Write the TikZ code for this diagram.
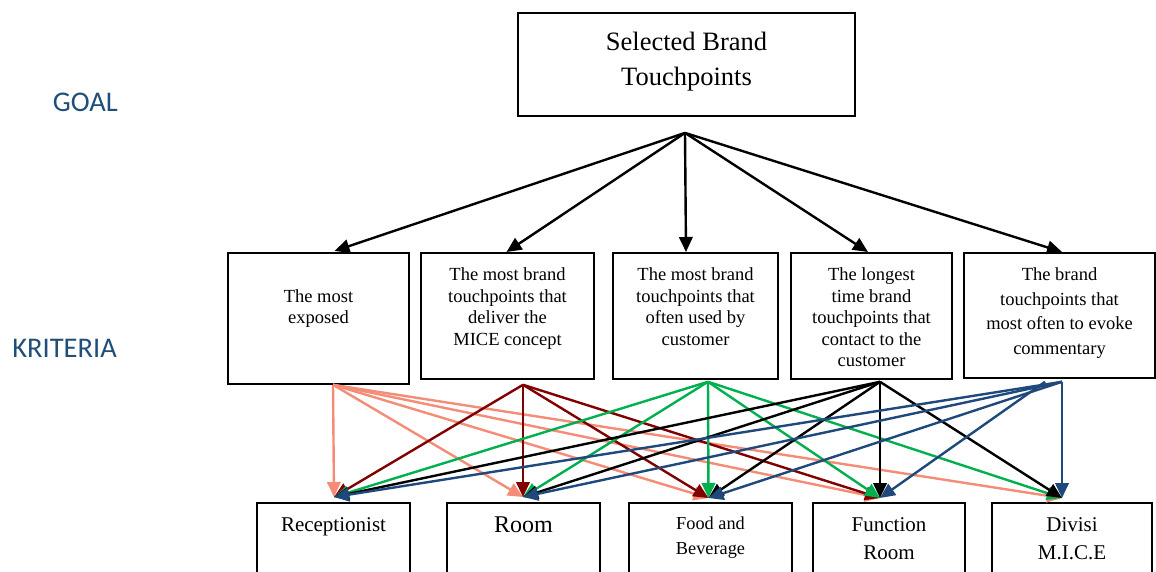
\documentclass[tikz,border=0pt]{standalone}
\usepackage{fontspec}
\setmainfont{Liberation Serif}
\newfontfamily\carl{Carlito}
\usepackage{tikz}
\usetikzlibrary{arrows.meta}
\usetikzlibrary{positioning}
\definecolor{salm}{RGB}{245,140,120}
\definecolor{dred}{RGB}{128,0,0}
\definecolor{grn}{RGB}{0,176,80}
\definecolor{dblue}{RGB}{31,73,125}
\definecolor{lblue}{RGB}{31,78,121}

\begin{document}
\begin{tikzpicture}[x=1pt, y=-1pt, goalbox/.style={draw, line width=1.8pt, minimum width=337pt,
		minimum height=103pt}, gtxt/.style={anchor=north, inner sep=0pt, align=center,
		font=\fontsize{26.5}{35}\selectfont}, kbox/.style={draw, line width=1.8pt, anchor=north,
		minimum height=126pt}, ktxt/.style={anchor=north, inner sep=0pt, align=center,
		font=\fontsize{18.5}{21.5}\selectfont}, abox/.style={draw, line width=1.8pt, anchor=north,
		minimum width=153pt, minimum height=120pt}, atxt/.style={anchor=north, inner sep=0pt,
		align=center, font=\fontsize{21}{28}\selectfont}, side/.style={anchor=base east, inner sep=0pt,
		text=lblue, font=\carl\fontsize{28.5}{30}\selectfont}, arr/.style={line width=2.4pt,
		-{Triangle[length=15pt, width=13.5pt]}}]
	\useasboundingbox (0,0) rectangle (1156,572);
	\node[side] (g1) at (118, 112) {GOAL};
	\node[side] (g2) at (117, 357) {KRITERIA};
	\node[goalbox] (0) at (686.5, 64.5) {};
	\node[gtxt, below=19.5pt of 0.north] (0t) {Selected Brand\\Touchpoints};
	\node[kbox, minimum width=181pt, minimum height=131pt] (1) at (318.5, 252) {};
	\node[kbox, minimum width=173pt] (2) at (507.5, 252) {};
	\node[kbox, minimum width=165pt] (3) at (695.5, 252) {};
	\node[kbox, minimum width=161pt] (4) at (871.5, 252) {};
	\node[kbox, minimum width=191pt, minimum height=125pt] (5) at (1059.5, 252) {};
	\node[ktxt, below=37pt of 1.north] (1t) {The most\\exposed};
	\node[ktxt, below=15.5pt of 2.north] (2t) {The most brand\\touchpoints that\\deliver the\\MICE concept};
	\node[ktxt, below=15.5pt of 3.north] (3t) {The most brand\\touchpoints that\\often used by\\customer};
	\node[ktxt, below=15.5pt of 4.north] (4t) {The longest\\time brand\\touchpoints that\\contact to the\\customer};
	\node[ktxt, below=15.5pt of 5.north, font=\fontsize{18.5}{24.7}\selectfont] (5t) {The brand\\touchpoints that\\most often to evoke\\commentary};
	\node[abox] (6) at (333.5, 502) {};
	\node[abox] (7) at (523.5, 502) {};
	\node[abox, minimum width=163pt] (8) at (710.5, 502) {};
	\node[abox, minimum width=152pt] (9) at (889, 502) {};
	\node[abox, minimum width=160pt] (10) at (1072, 502) {};
	\node[atxt, below=15pt of 6.north] (6t) {Receptionist};
	\node[atxt, below=15pt of 7.north, font=\fontsize{24}{28}\selectfont] (7t) {Room};
	\node[atxt, below=15pt of 8.north, font=\fontsize{18.3}{24.5}\selectfont] (8t) {Food and\\Beverage};
	\node[atxt, below=15pt of 9.north] (9t) {Function\\Room};
	\node[atxt, below=15pt of 10.north] (10t) {Divisi\\M.I.C.E};
	% arrow ends
	\coordinate (g) at ([xshift=-1.5pt, yshift=-16pt]0.south);
	\coordinate (a1) at ([xshift=16pt, yshift=1pt]1.north);
	\coordinate (a2) at ([xshift=-1pt]2.north);
	\coordinate (a3) at ([xshift=-9.5pt]3.north);
	\coordinate (a4) at ([xshift=-3.5pt]4.north);
	\coordinate (a5) at ([xshift=2.5pt]5.north);
	\coordinate (s1) at ([xshift=14.5pt]1.south);
	\coordinate (s2) at ([xshift=15.5pt, yshift=-5pt]2.south);
	\coordinate (s3) at ([xshift=12.5pt, yshift=-2pt]3.south);
	\coordinate (s4) at ([xshift=8.5pt, yshift=-2pt]4.south);
	\coordinate (s5) at ([xshift=2.5pt, yshift=-3pt]5.south);
	\coordinate (s5b) at ([xshift=-14.5pt, yshift=-3pt]5.south);
	\coordinate (t6) at ([xshift=0.5pt, yshift=5pt]6.north);
	\coordinate (t7) at ([xshift=-0.5pt, yshift=5pt]7.north);
	\coordinate (t8) at ([xshift=-2pt, yshift=4pt]8.north);
	\coordinate (t9) at ([xshift=-9pt, yshift=4pt]9.north);
	\coordinate (t10) at ([xshift=-10pt, yshift=4pt]10.north);
	\draw[arr] (g) to (a1);
	\draw[arr] (g) to (a2);
	\draw[arr] (g) to (a3);
	\draw[arr] (g) to (a4);
	\draw[arr] (g) to (a5);
	% most exposed
	\draw[arr, salm] (s1) to (t6);
	\draw[arr, salm] (s1) to (t7);
	\draw[arr, salm] (s1) to (t8);
	\draw[arr, salm] (s1) to (t9);
	\draw[arr, salm] (s1) to (t10);
	% MICE concept
	\draw[arr, dred] (s2) to (t6);
	\draw[arr, dred] (s2) to (t7);
	\draw[arr, dred] (s2) to (t8);
	\draw[arr, dred] (s2) to (t9);
	% often used
	\draw[arr, grn] (s3) to (t6);
	\draw[arr, grn] (s3) to (t7);
	\draw[arr, grn] (s3) to (t8);
	\draw[arr, grn] (s3) to (t9);
	\draw[arr, grn] (s3) to (t10);
	% longest time
	\draw[arr] (s4) to (t6);
	\draw[arr] (s4) to (t7);
	\draw[arr] (s4) to (t8);
	\draw[arr] (s4) to (t9);
	\draw[arr] (s4) to (t10);
	% commentary
	\draw[arr, dblue] (s5) to (t6);
	\draw[arr, dblue] (s5) to (t7);
	\draw[arr, dblue] (s5) to (t8);
	\draw[arr, dblue] (s5b) to (t9);
	\draw[arr, dblue] (s5) to (t10);
\end{tikzpicture}
\end{document}
